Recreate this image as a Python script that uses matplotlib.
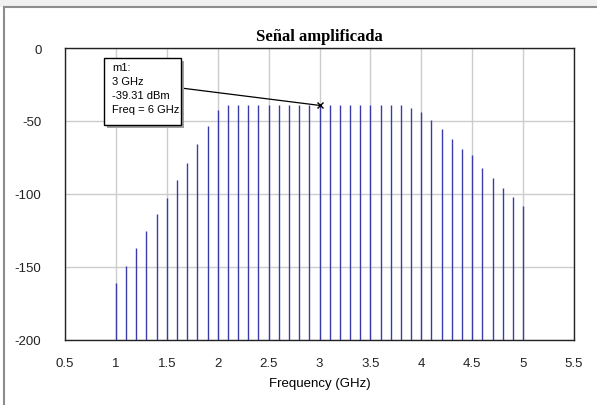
import matplotlib.pyplot as plt
from matplotlib.patches import Rectangle
from matplotlib.lines import Line2D

plt.rcParams['axes.unicode_minus'] = False

# spectrum of the amplified signal, one line every 100 MHz
freq_ghz = [1.0, 1.1, 1.2, 1.3, 1.4, 1.5, 1.6, 1.7, 1.8, 1.9,
            2.0, 2.1, 2.2, 2.3, 2.4, 2.5, 2.6, 2.7, 2.8, 2.9,
            3.0, 3.1, 3.2, 3.3, 3.4, 3.5, 3.6, 3.7, 3.8, 3.9,
            4.0, 4.1, 4.2, 4.3, 4.4, 4.5, 4.6, 4.7, 4.8, 4.9, 5.0]
power_dbm = [-161.0, -149.0, -137.1, -125.5, -113.9, -102.5, -90.7, -78.7, -65.9, -53.4,
             -42.5, -39.3, -39.3, -39.3, -39.3, -39.3, -39.3, -39.3, -39.3, -39.3,
             -39.31, -39.3, -39.3, -39.3, -39.3, -39.3, -39.3, -39.3, -39.3, -40.9,
             -43.9, -49.1, -55.2, -62.1, -69.3, -73.4, -82.5, -88.7, -95.7, -102.1, -108.2]

marker_freq = 3.0
marker_power = power_dbm[freq_ghz.index(marker_freq)]
marker_lines = ["m1:", "3 GHz", f"{marker_power:.2f} dBm", "Freq = 6 GHz"]

W, H = 597, 406


def px(x, y):
    # pixel position (from top-left) -> figure fraction
    return x / W, 1 - y / H


fig = plt.figure(figsize=(W / 100, H / 100), dpi=100)
ax = fig.add_axes([65 / W, 1 - 341 / H, (574 - 65) / W, (341 - 49) / H])

ax.vlines(freq_ghz, -200, power_dbm, color='#3a3aaa', lw=1.0, zorder=3)

ax.set_xlim(0.5, 5.5)
ax.set_ylim(-200, 0)
ax.set_xticks([0.5, 1, 1.5, 2, 2.5, 3, 3.5, 4, 4.5, 5, 5.5])
ax.set_xticklabels(['0.5', '1', '1.5', '2', '2.5', '3', '3.5', '4', '4.5', '5', '5.5'])
ax.set_yticks([0, -50, -100, -150, -200])
ax.tick_params(length=0, labelsize=9.5, colors='#222222')
ax.tick_params(axis='y', pad=17)
ax.tick_params(axis='x', pad=12)
for lbl in ax.get_xticklabels() + ax.get_yticklabels():
    lbl.set_family('Liberation Sans')
ax.grid(True, color='#cccccc', lw=1.0, zorder=0)
for sp in ax.spines.values():
    sp.set_color('#222222')
    sp.set_linewidth(1.0)

ax.set_xlabel("Frequency (GHz)", family='Liberation Sans', fontsize=9.5, labelpad=6)
ax.set_title("Señal amplificada", family='Liberation Serif', fontweight='bold',
             fontsize=12, pad=6)

# marker m1 and its readout box
ax.plot([marker_freq], [marker_power], marker='x', ms=4, mew=1, color='black', zorder=5)
ax.annotate('', xy=(marker_freq, marker_power), xycoords='data',
            xytext=px(181, 89), textcoords='figure fraction',
            arrowprops=dict(arrowstyle='-', color='black', lw=0.9, shrinkA=0, shrinkB=0),
            zorder=5)

bx0, by0, bx1, by1 = 104, 59, 181, 126
sx, sy = px(bx0 + 3, by1 + 3)
fig.patches.append(Rectangle((sx, sy), (bx1 - bx0) / W, (by1 - by0) / H,
                             transform=fig.transFigure, fc='#a0a0a0', ec='none', zorder=6))
x0, y0 = px(bx0, by1)
fig.patches.append(Rectangle((x0, y0), (bx1 - bx0) / W, (by1 - by0) / H,
                             transform=fig.transFigure, fc='white', ec='black',
                             lw=1.0, zorder=7))
for i, line in enumerate(marker_lines):
    tx, ty = px(112, 68 + 14 * i)
    fig.text(tx, ty, line, family='Liberation Sans', fontsize=8, va='center',
             ha='left', zorder=8)

# window frame
fig.patches.append(Rectangle((0, 1 - 8 / H), 1, 8 / H, transform=fig.transFigure,
                             fc='#f0f0f0', ec='none'))
fig.lines.append(Line2D([4 / W, 4 / W], [0, 1 - 8 / H], transform=fig.transFigure,
                        color='#8c8c8c', lw=1.5))
fig.lines.append(Line2D([4 / W, 1], [1 - 8 / H, 1 - 8 / H], transform=fig.transFigure,
                        color='#8c8c8c', lw=1.5))

plt.savefig("out.png", dpi=100)
